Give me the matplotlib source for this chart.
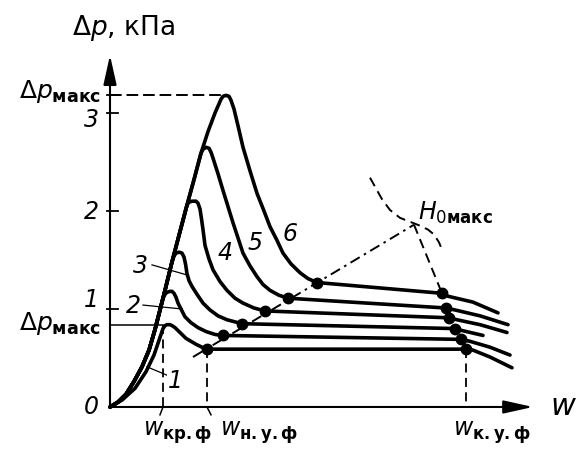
import matplotlib
matplotlib.use('Agg')
import matplotlib.pyplot as plt

plt.rcParams['font.family'] = ['DejaVu Sans']
plt.rcParams['mathtext.fontset'] = 'dejavusans'

# common rising branch (fixed bed); curves 2..6 leave it one after another
rise_w = [0.00, 0.08, 0.16, 0.24, 0.32, 0.39, 0.45, 0.50, 0.55, 0.62, 0.70,
          0.77, 0.84, 0.91, 0.98, 1.05, 1.11]
rise_dp = [0.00, 0.05, 0.13, 0.26, 0.41, 0.58, 0.79, 0.99, 1.19, 1.48, 1.79,
           2.06, 2.32, 2.59, 2.81, 3.00, 3.14]
leave_idx = [None, 7, 9, 11, 13, 16]

# curve 1 rises on its own, slightly below the others
c1_w = [0.00, 0.12, 0.25, 0.36, 0.44, 0.50, 0.53, 0.55, 0.57, 0.60, 0.62, 0.65,
        0.68, 0.72, 0.76, 0.81, 0.86, 0.92]
c1_dp = [0.00, 0.07, 0.19, 0.36, 0.53, 0.71, 0.80, 0.83, 0.84, 0.84, 0.83, 0.81,
         0.78, 0.74, 0.70, 0.67, 0.64, 0.61]
# peak and fall of curves 2..6
c2_w = [0.53, 0.55, 0.57, 0.60, 0.62, 0.64, 0.66, 0.68, 0.71, 0.75, 0.81, 0.88,
        0.96, 1.05]
c2_dp = [1.11, 1.15, 1.17, 1.18, 1.18, 1.16, 1.12, 1.06, 1.00, 0.92, 0.86, 0.81,
         0.77, 0.74]
c3_w = [0.64, 0.66, 0.69, 0.72, 0.74, 0.755, 0.77, 0.79, 0.82, 0.87, 0.93, 1.00,
        1.08, 1.17]
c3_dp = [1.54, 1.57, 1.58, 1.57, 1.53, 1.46, 1.36, 1.29, 1.23, 1.15, 1.06, 0.99,
         0.93, 0.89]
c4_w = [0.79, 0.82, 0.86, 0.88, 0.90, 0.915, 0.93, 0.95, 0.99, 1.03, 1.10, 1.17,
        1.25, 1.33, 1.44]
c4_dp = [2.09, 2.10, 2.10, 2.08, 2.02, 1.92, 1.81, 1.65, 1.51, 1.40, 1.28, 1.19,
         1.11, 1.06, 1.01]
c5_w = [0.93, 0.96, 0.99, 1.01, 1.03, 1.08, 1.13, 1.23, 1.33, 1.40, 1.47, 1.53,
        1.60, 1.69]
c5_dp = [2.63, 2.65, 2.64, 2.60, 2.54, 2.38, 2.21, 1.88, 1.57, 1.44, 1.33, 1.25,
         1.19, 1.14]
c6_w = [1.13, 1.16, 1.19, 1.21, 1.24, 1.28, 1.33, 1.40, 1.47, 1.54, 1.60, 1.67,
        1.73, 1.81, 1.90, 1.98]
c6_dp = [3.17, 3.18, 3.17, 3.13, 3.04, 2.87, 2.65, 2.41, 2.18, 2.00, 1.84, 1.70,
         1.57, 1.46, 1.37, 1.31]

# start of fluidization (left dots) and end of fluidization (right dots)
start_w = [0.97, 1.13, 1.32, 1.55, 1.78, 2.07]
start_dp = [0.59, 0.73, 0.85, 0.98, 1.11, 1.27]
end_w = [3.56, 3.51, 3.45, 3.39, 3.36, 3.32]
end_dp = [0.59, 0.69, 0.80, 0.91, 1.01, 1.16]

# tails after the end of fluidization
tail1_w, tail1_dp = [3.63, 3.80, 4.02], [0.58, 0.51, 0.40]
tail2_w, tail2_dp = [3.60, 3.80, 4.00], [0.67, 0.61, 0.53]
tail3_w, tail3_dp = [3.52, 3.73], [0.78, 0.73]
tail4_w, tail4_dp = [3.47, 3.70, 3.97], [0.89, 0.84, 0.76]
tail5_w, tail5_dp = [3.45, 3.70, 3.98], [0.99, 0.93, 0.84]
tail6_w, tail6_dp = [3.38, 3.63, 3.88], [1.13, 1.07, 0.96]

# H0 max boundary curve
h0_w = [2.60, 2.66, 2.72, 2.80, 2.90, 3.00, 3.10, 3.18, 3.24, 3.29, 3.33]
h0_dp = [2.34, 2.23, 2.12, 2.01, 1.93, 1.89, 1.85, 1.81, 1.76, 1.68, 1.58]
h0_point = (3.04, 1.86)
start_line_from = (0.83, 0.51)

dp_max_low = 0.84
dp_max_high = 3.18
w_kr = 0.53

fig = plt.figure(figsize=(5.81, 4.50), dpi=100)
ax = fig.add_axes([0, 0, 1, 1])
ax.set_xlim(-1.10, 4.71)
ax.set_ylim(-0.439, 4.153)
ax.axis('off')

K = 'black'
LW = 2.6

# axes with arrows
arrow = dict(arrowstyle='-|>,head_length=0.9,head_width=0.2', lw=1.5,
             color=K, mutation_scale=20, shrinkA=0, shrinkB=0)
ax.annotate('', xy=(0, 3.59), xytext=(0, -0.005), arrowprops=arrow)
ax.annotate('', xy=(4.23, 0), xytext=(-0.005, 0), arrowprops=arrow)

# y ticks
for v in [1, 2, 3, dp_max_high]:
    ax.plot([-0.03, 0.08], [v, v], color=K, lw=1.3)
for v, lab in [(0, '0'), (1.09, '1'), (1.99, '2'), (2.93, '3')]:
    ax.text(-0.11, v, lab, fontsize=17, style='italic', ha='right', va='center')

ax.text(0.14, 3.87, r'$\Delta p$, кПа', fontsize=19, ha='center', va='center')
ax.text(-0.09, dp_max_high + 0.04, r'$\Delta p_{\mathbf{макс}}$', fontsize=18,
        ha='right', va='center')
ax.text(-0.09, dp_max_low + 0.01, r'$\Delta p_{\mathbf{макс}}$', fontsize=18,
        ha='right', va='center')

# curves
fall = [(c2_w, c2_dp), (c3_w, c3_dp), (c4_w, c4_dp), (c5_w, c5_dp), (c6_w, c6_dp)]
tails = [(tail1_w, tail1_dp), (tail2_w, tail2_dp), (tail3_w, tail3_dp),
         (tail4_w, tail4_dp), (tail5_w, tail5_dp), (tail6_w, tail6_dp)]
for i in range(6):
    if i == 0:
        xs, ys = list(c1_w), list(c1_dp)
    else:
        k = leave_idx[i] + 1
        xs = rise_w[:k] + fall[i - 1][0]
        ys = rise_dp[:k] + fall[i - 1][1]
    xs += [start_w[i], end_w[i]] + tails[i][0]
    ys += [start_dp[i], end_dp[i]] + tails[i][1]
    ax.plot(xs, ys, color=K, lw=LW, solid_joinstyle='round', solid_capstyle='round')

ax.plot(start_w, start_dp, 'o', color=K, ms=7.5)
ax.plot(end_w, end_dp, 'o', color=K, ms=7.5)

# guide lines
ax.plot([0, w_kr], [dp_max_low, dp_max_low], color=K, lw=1.1)
ax.plot([0, c6_w[1]], [dp_max_high, dp_max_high], color=K, lw=1.4, dashes=(6, 2.5))
ax.plot([w_kr, w_kr], [dp_max_low, 0], color=K, lw=1.3, dashes=(5, 3))
ax.plot([start_w[0], start_w[0]], [start_dp[0], 0], color=K, lw=1.3, dashes=(5, 3))
ax.plot([end_w[0], end_w[0]], [end_dp[0], 0], color=K, lw=1.3, dashes=(5, 3))
ax.plot([w_kr, w_kr - 0.03], [0, -0.08], color=K, lw=1.1)
ax.plot([start_w[0], start_w[0] + 0.04], [0, -0.08], color=K, lw=1.1)

ax.plot([start_line_from[0], h0_point[0]], [start_line_from[1], h0_point[1]],
        color=K, lw=1.4, dashes=(5.5, 2.5, 1.3, 2.5))
ax.plot([h0_point[0], end_w[5]], [h0_point[1], end_dp[5]], color=K, lw=1.4,
        dashes=(5, 3))
ax.plot(h0_w, h0_dp, color=K, lw=1.4, dashes=(5, 3))

# curve numbers
ax.plot([0.37, 0.58], [0.41, 0.32], color=K, lw=0.9)
ax.plot([0.33, 0.72], [1.04, 1.00], color=K, lw=0.9)
ax.plot([0.42, 0.76], [1.45, 1.35], color=K, lw=0.9)
for w, dp, lab in [(0.65, 0.27, '1'), (0.23, 1.03, '2'), (0.30, 1.44, '3'),
                   (1.15, 1.57, '4'), (1.45, 1.67, '5'), (1.80, 1.77, '6')]:
    ax.text(w, dp, lab, fontsize=17, style='italic', ha='center', va='center',
            bbox=dict(facecolor='white', edgecolor='none', pad=0.5))

ax.text(3.08, 1.98, r'$H_{\mathit{0}\mathbf{макс}}$', fontsize=17, ha='left', va='center')
ax.text(4.53, 0.0, r'$w$', fontsize=22, ha='center', va='center')
ax.text(0.33, -0.26, r'$w_{\mathbf{кр.ф}}$', fontsize=17, ha='left', va='center')
ax.text(1.10, -0.26, r'$w_{\mathbf{н.у.ф}}$', fontsize=17, ha='left', va='center')
ax.text(3.43, -0.26, r'$w_{\mathbf{к.у.ф}}$', fontsize=17, ha='left', va='center')

fig.savefig('out.png', dpi=100, facecolor='white')
